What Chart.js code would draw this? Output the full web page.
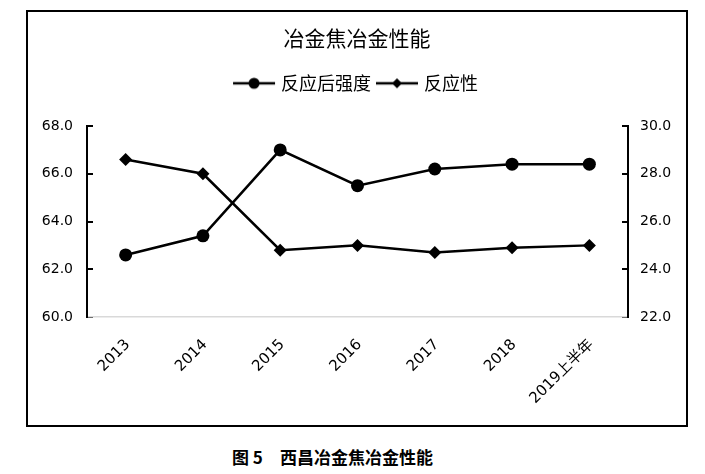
<!DOCTYPE html>
<html><head><meta charset="utf-8">
<script src="https://cdn.jsdelivr.net/npm/chart.js@4"></script>
<style>
html,body{margin:0;padding:0;background:#fff;}
#box{position:absolute;left:26px;top:10px;width:658px;height:413px;border:2px solid #000;}
#box canvas{display:block;}
#cap{position:absolute;left:232px;top:446px;font-family:"Noto Sans CJK SC",sans-serif;font-weight:bold;font-size:17px;line-height:22px;white-space:pre;color:#000;}
</style></head><body>
<div id="box"><canvas id="c" width="658" height="413" style="width:658px;height:413px"></canvas></div>
<div id="cap">图 5　西昌冶金焦冶金性能</div>
<script>
const chartTitle = '冶金焦冶金性能';
const categories = ['2013', '2014', '2015', '2016', '2017', '2018', '2019上半年'];
const strengthName = '反应后强度';
const strength = [62.6, 63.4, 67.0, 65.5, 66.2, 66.4, 66.4];
const reactivityName = '反应性';
const reactivity = [28.6, 28.0, 24.8, 25.0, 24.7, 24.9, 25.0];
const leftAxis = {min: 60, max: 68, step: 2};
const rightAxis = {min: 22, max: 30, step: 2};

function legendIcon(kind) {
  const c = document.createElement('canvas');
  c.width = 44; c.height = 14;
  const g = c.getContext('2d');
  g.strokeStyle = '#000'; g.lineWidth = 2.5;
  g.beginPath(); g.moveTo(1, 7); g.lineTo(43, 7); g.stroke();
  g.fillStyle = '#000'; g.beginPath();
  if (kind === 'circle') { g.arc(22, 7, 5.5, 0, Math.PI * 2); }
  else { g.moveTo(22, 2); g.lineTo(27, 7); g.lineTo(22, 12); g.lineTo(17, 7); g.closePath(); }
  g.fill();
  return c;
}
const icons = [legendIcon('circle'), legendIcon('diamond')];

const tickFont = {family: '"DejaVu Sans","Noto Sans CJK SC",sans-serif', size: 14};
const xTickFont = {family: '"DejaVu Sans","Noto Sans CJK SC",sans-serif', size: 15};
const cjk = '"Noto Sans CJK SC",sans-serif';

new Chart(document.getElementById('c'), {
  type: 'line',
  data: {
    labels: categories,
    datasets: [
      {label: strengthName, data: strength, xAxisID: 'x', yAxisID: 'y',
       borderColor: '#000', backgroundColor: '#000', borderWidth: 2.5, tension: 0,
       pointStyle: 'circle', pointRadius: 6.5, pointBackgroundColor: '#000', pointBorderColor: '#000', pointBorderWidth: 0},
      {label: reactivityName, data: reactivity, xAxisID: 'x', yAxisID: 'y2',
       borderColor: '#000', backgroundColor: '#000', borderWidth: 2.5, tension: 0,
       pointStyle: 'rectRot', pointRadius: 6.5, pointBackgroundColor: '#000', pointBorderColor: '#000', pointBorderWidth: 0}
    ]
  },
  options: {
    responsive: false, animation: false,
    layout: {padding: 0},
    plugins: {
      tooltip: {enabled: false},
      title: {display: true, text: chartTitle, color: '#000',
        font: {family: cjk, size: 21, weight: 'normal'}, padding: {top: 13.4, bottom: 15.7}},
      legend: {display: true, position: 'top',
        labels: {usePointStyle: true, pointStyleWidth: 36, padding: 8, color: '#000',
          font: {family: cjk, size: 18},
          generateLabels(chart) {
            const items = Chart.defaults.plugins.legend.labels.generateLabels(chart);
            items.forEach((it, i) => { it.pointStyle = icons[i]; });
            return items;
          }}}
    },
    scales: {
      x: {type: 'category', position: 'bottom', offset: true,
        grid: {display: false, drawTicks: false},
        border: {display: true, color: '#d9d9d9', width: 1.5},
        ticks: {autoSkip: false, maxRotation: 45, minRotation: 45, padding: 19, labelOffset: 2, color: '#000', font: xTickFont},
        afterFit(s) { s.height = 108; }},
      xTop: {type: 'category', position: 'top', display: true,
        grid: {display: false, drawTicks: false}, border: {display: false}, ticks: {display: false},
        afterFit(s) { s.height = 23.7; }},
      y: {type: 'linear', position: 'left', min: leftAxis.min, max: leftAxis.max,
        ticks: {stepSize: leftAxis.step, padding: 20, color: '#000', font: tickFont, callback: v => Number(v).toFixed(1)},
        grid: {drawOnChartArea: false, drawTicks: true, tickLength: -6, color: '#000', lineWidth: 2},
        border: {display: true, color: '#000', width: 2},
        afterFit(s) { s.width = 59; }},
      y2: {type: 'linear', position: 'right', min: rightAxis.min, max: rightAxis.max,
        ticks: {stepSize: rightAxis.step, padding: 18, color: '#000', font: tickFont, callback: v => Number(v).toFixed(1)},
        grid: {drawOnChartArea: false, drawTicks: true, tickLength: -6, color: '#000', lineWidth: 2},
        border: {display: true, color: '#000', width: 2},
        afterFit(s) { s.width = 58; }}
    }
  }
});
</script>
</body></html>
